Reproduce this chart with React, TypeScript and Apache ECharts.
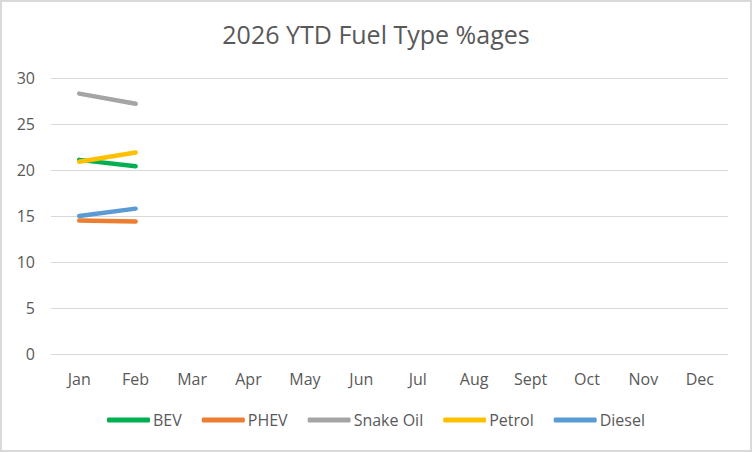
import React, { useEffect, useRef } from "react";
import * as echarts from "echarts";

const months = ["Jan", "Feb", "Mar", "Apr", "May", "Jun", "Jul", "Aug", "Sept", "Oct", "Nov", "Dec"];
const bev = [21.1, 20.4];
const phev = [14.5, 14.4];
const snakeOil = [28.3, 27.2];
const petrol = [20.9, 21.9];
const diesel = [15.0, 15.8];

const seriesNames = ["BEV", "PHEV", "Snake Oil", "Petrol", "Diesel"];
const seriesData = [bev, phev, snakeOil, petrol, diesel];
const seriesColors = ["#00b050", "#ed7d31", "#a5a5a5", "#ffc000", "#5b9bd5"];

const FONT = "Open Sans";

export default function App() {
  const ref = useRef<HTMLDivElement>(null);
  useEffect(() => {
    const chart = echarts.init(ref.current!, null, { renderer: "svg" });
    chart.setOption({
      animation: false,
      backgroundColor: "#ffffff",
      title: {
        text: "2026 YTD Fuel Type %ages",
        left: "center",
        top: 16,
        textStyle: { fontFamily: FONT, fontSize: 25, fontWeight: "normal", color: "#595959" },
      },
      legend: {
        bottom: 19,
        left: "center",
        icon: "roundRect",
        itemWidth: 43,
        itemHeight: 5,
        itemGap: 20,
        textStyle: { fontFamily: FONT, fontSize: 16, color: "#595959", padding: [0, 0, 0, -2] },
        data: seriesNames,
      },
      grid: { left: 51, right: 24, top: 78, bottom: 98, containLabel: false },
      xAxis: {
        type: "category",
        data: months,
        boundaryGap: true,
        axisLine: { show: true, lineStyle: { color: "#d9d9d9", width: 1 } },
        axisTick: { show: false },
        axisLabel: { fontFamily: FONT, fontSize: 16, color: "#595959", margin: 17 },
      },
      yAxis: {
        type: "value",
        min: 0,
        max: 30,
        interval: 5,
        axisLine: { show: false },
        axisTick: { show: false },
        splitLine: { lineStyle: { color: "#d9d9d9", width: 1 } },
        axisLabel: { fontFamily: FONT, fontSize: 16, color: "#595959", margin: 16 },
      },
      series: seriesNames.map((name, i) => ({
        name,
        type: "line",
        data: seriesData[i],
        symbol: "none",
        color: seriesColors[i],
        lineStyle: { width: 4.5, color: seriesColors[i], cap: "round" },
      })),
    });
    return () => chart.dispose();
  }, []);
  return (
    <div style={{ position: "absolute", left: 0, top: 0, width: 752, height: 452 }}>
      <div ref={ref} style={{ position: "absolute", left: 0, top: 0, width: 752, height: 452 }} />
      <div
        style={{
          position: "absolute",
          left: 0,
          top: 0,
          width: 752,
          height: 452,
          boxSizing: "border-box",
          border: "2px solid #d9d9d9",
          pointerEvents: "none",
        }}
      />
    </div>
  );
}
